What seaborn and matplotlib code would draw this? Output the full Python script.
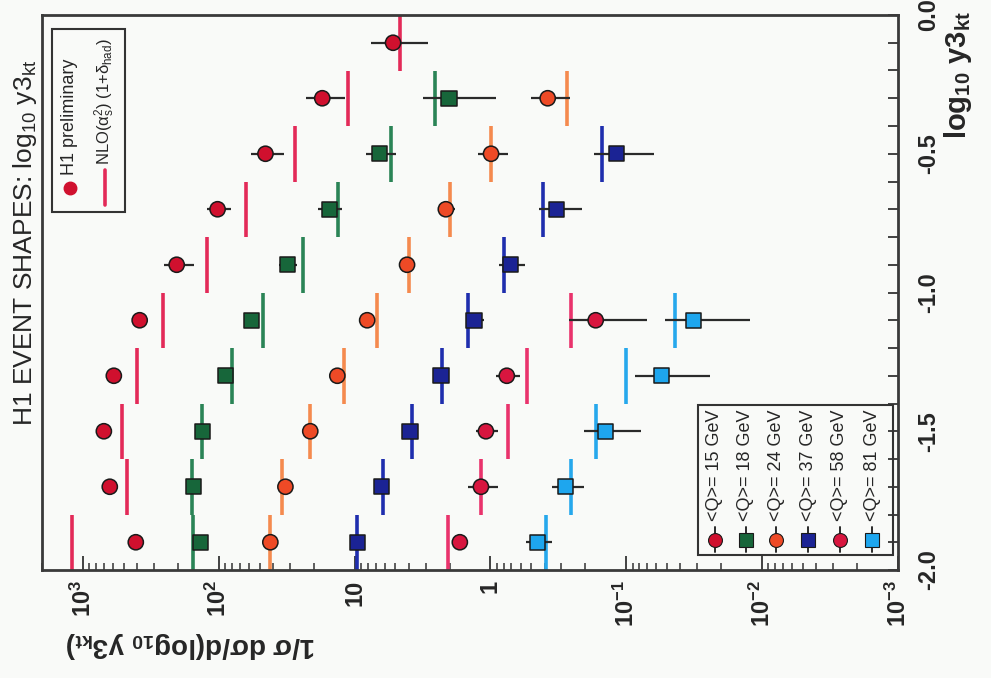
import numpy as np
import pandas as pd
import matplotlib
matplotlib.use("Agg")
import matplotlib.pyplot as plt
import matplotlib.ticker as mticker
import seaborn as sns

# data ---------------------------------------------------------------------------
bins = [-1.9, -1.7, -1.5, -1.3, -1.1, -0.9, -0.7, -0.5, -0.3, -0.1]   # log10 y3kt bin centres
half_width = 0.1

q_labels = ['15 GeV', '18 GeV', '24 GeV', '37 GeV', '58 GeV', '81 GeV']

q15_data = [408, 634, 701, 592, 382, 204, 102, 45.3, 17.3, 5.21]
q15_err  = [0.08, 0.08, 0.08, 0.08, 0.12, 0.25, 0.2, 0.27, 0.32, 0.45]
q15_nlo  = [1205, 475, 517, 401, 259, 121, 63.5, 27.3, 11.1, 4.63]

q18_data = [136, 153, 132, 89.1, 57.4, 31.3, 15.4, 6.6, 2.02]
q18_err  = [0.08, 0.08, 0.1, 0.1, 0.12, 0.15, 0.2, 0.25, 0.55]
q18_nlo  = [156, 158, 132, 80.5, 46.9, 23.9, 13.2, 5.38, 2.56]

q24_data = [41.7, 32.3, 21.2, 13.4, 8.08, 4.11, 2.13, 0.99, 0.379]
q24_err  = [0.08, 0.08, 0.08, 0.1, 0.12, 0.12, 0.15, 0.25, 0.32]
q24_nlo  = [41.7, 34.0, 21.2, 11.9, 6.82, 3.97, 1.99, 0.99, 0.275]

q37_data = [9.57, 6.38, 3.91, 2.31, 1.32, 0.708, 0.326, 0.118]
q37_err  = [0.08, 0.08, 0.1, 0.1, 0.15, 0.22, 0.35, 0.47]
q37_nlo  = [9.57, 6.17, 3.78, 2.26, 1.47, 0.80, 0.412, 0.150]

q58_data = [1.68, 1.175, 1.08, 0.758, 0.168]
q58_err  = [0.12, 0.25, 0.18, 0.2, 0.58]
q58_nlo  = [2.06, 1.175, 0.745, 0.541, 0.257]

q81_data = [0.449, 0.279, 0.142, 0.0552, 0.0321]
q81_err  = [0.22, 0.27, 0.45, 0.56, 0.62]
q81_nlo  = [0.392, 0.257, 0.168, 0.101, 0.0436]

x_tick_vals   = [1e3, 1e2, 1e1, 1, 1e-1, 1e-2, 1e-3]
x_tick_labels = ['$10^{3}$', '$10^{2}$', '10', '1', '$10^{-1}$', '$10^{-2}$', '$10^{-3}$']
y_tick_vals   = [-2.0, -1.5, -1.0, -0.5, 0.0]
y_tick_labels = ['-2.0', '-1.5', '-1.0', '-0.5', '0.0']

# styles --------------------------------------------------------------------------
marker_col = {'15 GeV': '#d0102e', '18 GeV': '#17663a', '24 GeV': '#ee4a26',
              '37 GeV': '#1b2394', '58 GeV': '#d8163f', '81 GeV': '#1ea6ee'}
line_col   = {'15 GeV': '#e32a58', '18 GeV': '#2a8456', '24 GeV': '#f58a4e',
              '37 GeV': '#1f2eae', '58 GeV': '#e9336c', '81 GeV': '#26a8ec'}
markers    = {'15 GeV': 'o', '18 GeV': 's', '24 GeV': 'o',
              '37 GeV': 's', '58 GeV': 'o', '81 GeV': 's'}

series = [q15_data, q18_data, q24_data, q37_data, q58_data, q81_data]
errors = [q15_err, q18_err, q24_err, q37_err, q58_err, q81_err]
nlos   = [q15_nlo, q18_nlo, q24_nlo, q37_nlo, q58_nlo, q81_nlo]

rows = []
for q, d, e, n in zip(q_labels, series, errors, nlos):
    for i in range(len(d)):
        rows.append({'Q': q, 'y3kt': bins[i], 'value': d[i], 'err': e[i] * d[i], 'nlo': n[i]})
df = pd.DataFrame(rows)

# plotting ------------------------------------------------------------------------
sns.set_style('ticks')
plt.rcParams['font.family'] = ['Liberation Sans', 'DejaVu Sans']
plt.rcParams['mathtext.default'] = 'regular'
plt.rcParams['axes.unicode_minus'] = False

bg = '#f9faf8'
fig = plt.figure(figsize=(9.91, 6.78), dpi=100, facecolor=bg)
ax = fig.add_axes([42/991, 1-570/678, 856/991, 555/678])
ax.set_facecolor(bg)
ax.set_xscale('log')

# NLO step lines
for q in q_labels:
    sub = df[df['Q'] == q]
    ax.vlines(sub['nlo'], sub['y3kt'] - half_width, sub['y3kt'] + half_width,
              color=line_col[q], lw=2.6, zorder=2)

# data error bars
ax.errorbar(df['value'], df['y3kt'], xerr=df['err'], fmt='none',
            ecolor='#2a2a2a', elinewidth=1.6, capsize=0, zorder=3)

sns.scatterplot(data=df, x='value', y='y3kt', hue='Q', style='Q',
                palette=marker_col, markers=markers, s=120,
                edgecolor='#1a1a1a', linewidth=1.1, legend=False, ax=ax, zorder=4)

ax.set_xlim(2000, 1e-3)
ax.set_ylim(-2.0, 0.0)
ax.set_xlabel('')
ax.set_ylabel('')

ax.xaxis.set_major_locator(mticker.FixedLocator(x_tick_vals))
ax.xaxis.set_major_formatter(mticker.FixedFormatter(x_tick_labels))
ax.xaxis.set_minor_locator(mticker.LogLocator(base=10, subs=np.arange(2, 10), numticks=20))
ax.xaxis.set_minor_formatter(mticker.NullFormatter())

ax.yaxis.tick_right()
ax.yaxis.set_major_locator(mticker.FixedLocator(y_tick_vals))
ax.yaxis.set_major_formatter(mticker.FixedFormatter(y_tick_labels))
ax.yaxis.set_minor_locator(mticker.MultipleLocator(0.1))

ax.tick_params(axis='x', which='both', direction='in', top=False, bottom=True,
               labelrotation=90, labelsize=17, pad=7, color='#333333')
ax.tick_params(axis='x', which='major', length=10, width=1.3)
ax.tick_params(axis='x', which='minor', length=5, width=1.1)
ax.tick_params(axis='y', which='both', direction='in', left=False, right=True,
               labelleft=False, labelright=True, labelrotation=90, labelsize=17,
               pad=14, length=7, width=1.3, color='#333333')
for lab in ax.get_yticklabels():
    lab.set_va('center')
    lab.set_fontweight('bold')
for lab in ax.get_xticklabels():
    lab.set_fontweight('bold')

for sp in ax.spines.values():
    sp.set_visible(True)
    sp.set_color('#3a3a3a')
    sp.set_linewidth(2)

# legend: H1 data / NLO (top left, rotated)
ax.add_patch(plt.Rectangle((0.0117, 0.645), 0.0853, 0.33, transform=ax.transAxes,
                           fill=False, edgecolor='#333333', lw=1.5, zorder=5))
ax.plot([0.0327], [0.688], transform=ax.transAxes, marker='o', ms=9,
        color=marker_col['15 GeV'], mec=marker_col['15 GeV'], zorder=6)
ax.text(0.0327, 0.712, 'H1 preliminary', transform=ax.transAxes, rotation=90,
        ha='center', va='bottom', fontsize=13)
ax.plot([0.0736, 0.0736], [0.658, 0.721], transform=ax.transAxes,
        color=line_col['15 GeV'], lw=2.6, zorder=6)
ax.text(0.0736, 0.730, 'NLO($\\alpha_s^2$) (1+$\\delta_{had}$)', transform=ax.transAxes,
        rotation=90, ha='center', va='bottom', fontsize=12)

# legend: Q values (bottom right, rotated)
ax.add_patch(plt.Rectangle((0.766, 0.027), 0.228, 0.27, transform=ax.transAxes,
                           fill=False, edgecolor='#333333', lw=1.5, zorder=5))
col_x = [0.786, 0.822, 0.858, 0.895, 0.932, 0.970]
for xc, q in zip(col_x, q_labels):
    ax.plot([xc, xc], [0.032, 0.078], transform=ax.transAxes, color='#2a2a2a', lw=1.4, zorder=6)
    ax.plot([xc], [0.054], transform=ax.transAxes, marker=markers[q], ms=10,
            color=marker_col[q], mec='#1a1a1a', mew=0.8, zorder=7)
    ax.text(xc, 0.088, '<Q>= ' + q, transform=ax.transAxes, rotation=90,
            ha='center', va='bottom', fontsize=13)

# titles and axis labels
fig.text(25/991, 1-243/678, 'H1 EVENT SHAPES: log$_{10}$ y3$_{kt}$', rotation=90,
         ha='center', va='center', fontsize=19)
fig.text(958/991, 1-75/678, 'log$_{10}$ y3$_{kt}$', rotation=90,
         ha='center', va='center', fontsize=21, fontweight='bold')
fig.text(191/991, 1-645/678, '1/σ dσ/d(log$_{10}$ y3$_{kt}$)', rotation=180,
         ha='center', va='center', fontsize=20, fontweight='bold')

fig.savefig('out.png', dpi=100, facecolor=bg)
